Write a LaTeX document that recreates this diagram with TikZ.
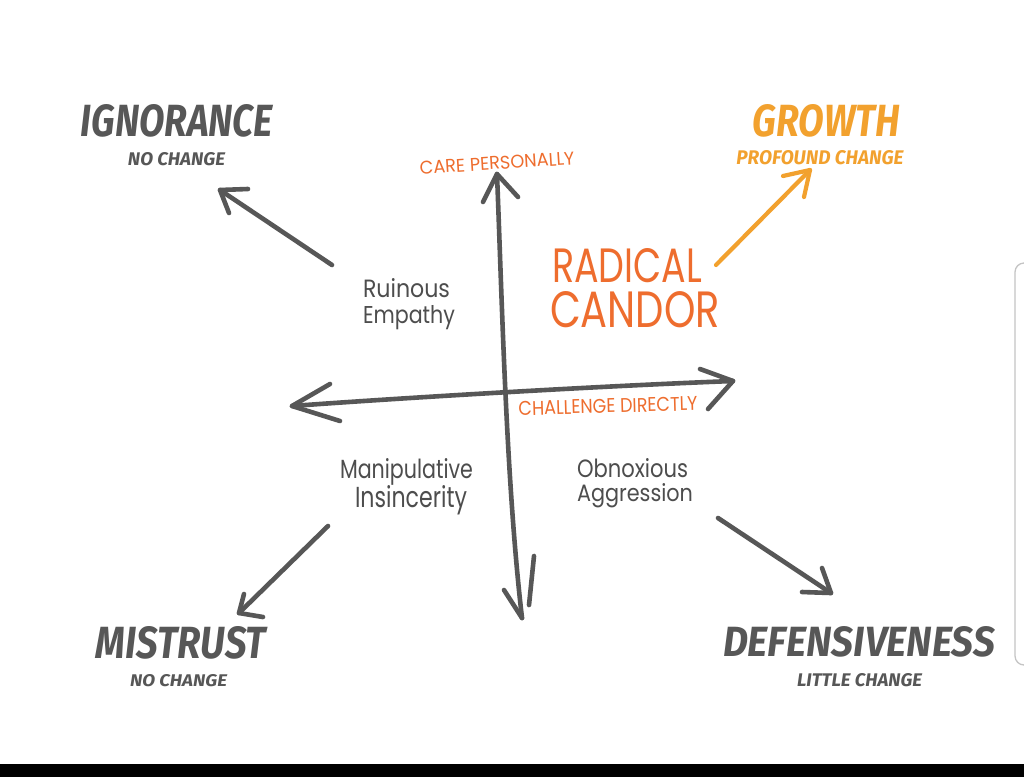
\documentclass[tikz,border=0pt]{standalone}
\usepackage{fontspec}
\usepackage{graphicx}
\setmainfont{Fira Sans}
\newfontfamily\brushfont{Fira Sans}
\newfontfamily\handfont{Poppins}
\definecolor{ink}{HTML}{575757}
\definecolor{hand}{HTML}{4D4D4D}
\definecolor{orng}{HTML}{EE6D2E}
\definecolor{amber}{HTML}{F2A12E}
\definecolor{framegray}{HTML}{C4C4C4}
\newcommand{\fitt}[3]{\resizebox{#1pt}{#2pt}{#3}}
\newcommand{\brush}[1]{{\brushfont\bfseries\itshape #1}}
\newcommand{\hand}[1]{{\handfont #1}}
\begin{document}
\begin{tikzpicture}[x=1pt,y=-1pt,
  lbl/.style={inner sep=0pt, outer sep=0pt},
  stroke/.style={draw=ink, line width=4.6pt, line cap=round, line join=round},
  gstroke/.style={draw=amber, line width=4.2pt, line cap=round, line join=round}]
\useasboundingbox (0,0) rectangle (1024,777);
\fill[white] (0,0) rectangle (1024,764);
\fill[black] (0,764) rectangle (1024,777);
\begin{scope}
\clip (0,0) rectangle (1024,764);
\draw[framegray, line width=1.3pt, rounded corners=9pt] (1015,263) rectangle (1045,665);
\end{scope}

% outcome labels
\node[lbl, text=ink] (ign) at (177,121) {\fitt{192}{32}{\brush{IGNORANCE}}};
\node[lbl, text=ink] (ignsub) at (176.5,159.5) {\fitt{97}{13}{\brush{NO CHANGE}}};
\node[lbl, text=amber] (gro) at (826.5,121) {\fitt{147}{32}{\brush{GROWTH}}};
\node[lbl, text=amber] (grosub) at (820,157.5) {\fitt{167}{14}{\brush{PROFOUND CHANGE}}};
\node[lbl, text=ink] (mis) at (181,643) {\fitt{170}{32}{\brush{MISTRUST}}};
\node[lbl, text=ink] (missub) at (178.5,681) {\fitt{97}{12}{\brush{NO CHANGE}}};
\node[lbl, text=ink] (def) at (859,642) {\fitt{272}{30}{\brush{DEFENSIVENESS}}};
\node[lbl, text=ink] (defsub) at (859.5,680.5) {\fitt{125}{13}{\brush{LITTLE CHANGE}}};

% axis labels
\node[lbl, text=orng, rotate=3.7] (care) at (497,163) {\fitt{155}{13}{\hand{CARE PERSONALLY}}};
\node[lbl, text=orng, rotate=1.6] (chal) at (608,406) {\fitt{179}{14}{\hand{CHALLENGE DIRECTLY}}};

% radical candor
\node[lbl, text=orng] (rad) at (627,265.5) {\fitt{150}{34}{\hand{RADICAL}}};
\node[lbl, text=orng] (can) at (635,310) {\fitt{170}{36}{\hand{CANDOR}}};

% quadrant labels
\node[lbl, text=hand, anchor=base west] (ru1) at (363,297) {\fitt{87}{19}{\hand{Ruinous}}};
\node[lbl, text=hand, anchor=base west] (ru2) at (363,323) {\fitt{92}{18}{\hand{Empathy}}};
\node[lbl, text=hand, anchor=base west] (ma1) at (340,478) {\fitt{133}{20}{\hand{Manipulative}}};
\node[lbl, text=hand, anchor=base west] (ma2) at (355,507) {\fitt{112}{22}{\hand{Insincerity}}};
\node[lbl, text=hand, anchor=base west] (ob1) at (577,477) {\fitt{111}{19}{\hand{Obnoxious}}};
\node[lbl, text=hand, anchor=base west] (ob2) at (577,501) {\fitt{116}{18}{\hand{Aggression}}};

% axes
\coordinate (vtop) at (497,174);
\coordinate (vbot) at (522,618);
\draw[stroke] (vtop) .. controls (502,300) and (506,480) .. (vbot);
\draw[stroke] (483,202) -- (vtop) -- (518,197);
\draw[stroke] (504,590) -- (vbot);
\draw[stroke] (534,556) -- (529,605);

\coordinate (hleft) at (292,406);
\coordinate (hright) at (733,381);
\draw[stroke] (hleft) .. controls (400,398) and (600,386) .. (hright);
\draw[stroke] (330,384) -- (hleft) -- (340,421);
\draw[stroke] (700,369) -- (hright) -- (708,409);

% outcome arrows
\coordinate (igs) at (332,265); \coordinate (igt) at (220,190);
\draw[stroke] (igs) -- (igt);
\draw[stroke] (248,189) -- (igt) -- (229,213);

\coordinate (grs) at (716,265); \coordinate (grt) at (810,170);
\draw[gstroke] (grs) -- (grt);
\draw[gstroke] (783,176) -- (grt) -- (804,197);

\coordinate (mss) at (328,526); \coordinate (mst) at (239,613);
\draw[stroke] (mss) -- (mst);
\draw[stroke] (244,594) -- (mst) -- (263,617);

\coordinate (dfs) at (718,518); \coordinate (dft) at (831,593);
\draw[stroke] (dfs) -- (dft);
\draw[stroke] (802,592) -- (dft) -- (822,568);
\end{tikzpicture}
\end{document}
